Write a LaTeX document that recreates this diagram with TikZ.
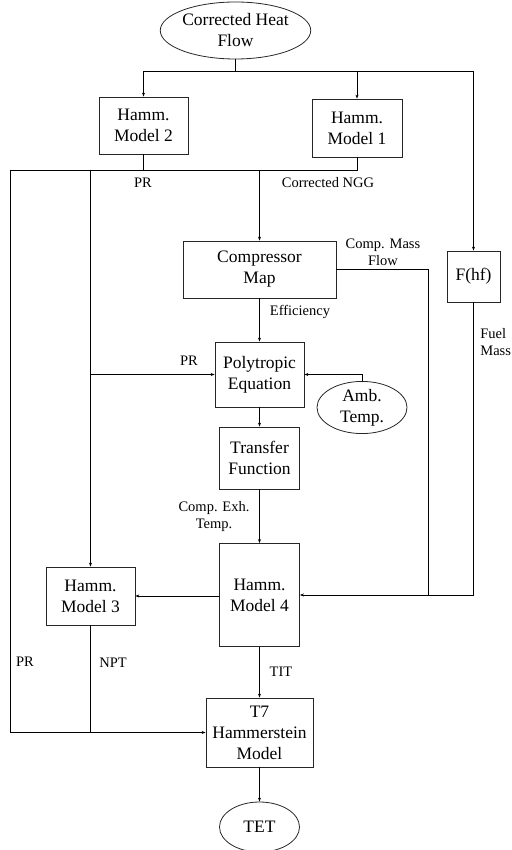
\documentclass[tikz,border=0pt]{standalone}
\usepackage{fontspec}
\setmainfont{Liberation Serif}
\usetikzlibrary{arrows.meta,shapes.geometric}
\begin{document}
\begin{tikzpicture}[x=1pt,y=-1pt,
  line width=0.8pt,
  box/.style={draw=black!85,rectangle,inner sep=0pt,align=center,font=\fontsize{17.5}{21}\selectfont},
  oval/.style={draw=black!85,ellipse,inner sep=0pt,align=center,font=\fontsize{17.5}{21}\selectfont},
  lab/.style={inner sep=0pt,align=center,font=\fontsize{14.5}{17}\selectfont},
  arr/.style={-{Stealth[length=4pt,width=3pt]}}]
\useasboundingbox (0,0) rectangle (511,850);
% nodes
\node[oval,minimum width=137,minimum height=57] (chf) at (235.5,30.5) {Corrected Heat\\Flow};
\node[box,minimum width=89,minimum height=57] (h2) at (143.5,125.5) {Hamm.\\Model 2};
\node[box,minimum width=90,minimum height=58] (h1) at (357,128) {Hamm.\\Model 1};
\node[box,minimum width=53,minimum height=51] (fhf) at (473.5,276.5) {F(hf)};
\node[box,minimum width=153,minimum height=57] (cm) at (259.5,269.5) {Compressor\\Map};
\node[box,minimum width=89,minimum height=65] (poly) at (259.5,374.5) {Polytropic\\Equation};
\node[oval,minimum width=90,minimum height=41] (amb) at (362,407.5) {Amb.\\Temp.};
\node[box,minimum width=80,minimum height=62] (tf) at (259.5,458) {Transfer\\Function};
\node[box,minimum width=80,minimum height=103] (h4) at (259.5,595) {Hamm.\\Model 4};
\node[box,minimum width=89,minimum height=58] (h3) at (90.5,596) {Hamm.\\Model 3};
\node[box,minimum width=107,minimum height=69] (t7) at (259.5,732.5) {T7\\Hammerstein\\Model};
\node[oval,minimum width=80,minimum height=50] (tet) at (259.5,827) {TET};
% labels
\node[lab] (lpr1) at (143,183) {PR};
\node[lab] (lngg) at (328,183) {Corrected NGG};
\node[lab] (lcmf) at (383,252.5) {Comp. Mass\\Flow};
\node[lab,anchor=west,align=left] (lfm) at (480,342.5) {Fuel\\Mass};
\node[lab] (leff) at (300,312) {Efficiency};
\node[lab] (lpr2) at (189,361) {PR};
\node[lab] (lcet) at (214,516.5) {Comp. Exh.\\Temp.};
\node[lab] (lpr3) at (25,662) {PR};
\node[lab] (lnpt) at (113,663) {NPT};
\node[lab] (ltit) at (281,672) {TIT};
% junctions
\coordinate (j0) at (235.5,71);
\coordinate (jl) at (10,170);
\coordinate (jb) at (90.5,170);
\coordinate (jr) at (357,170);
\coordinate (jc) at (259.5,170);
\coordinate (jm) at (428,595);
% connectors
\draw (chf.south) -- (j0);
\draw[arr] (j0) -| (h2.north);
\draw[arr] (j0) -| (h1.north);
\draw[arr] (j0) -| (fhf.north);
\draw (h2.south) -- (h2.south |- jl);
\draw (h1.south) -- (jr) -- (jl);
\draw[arr] (jl) |- (t7.west);
\draw[arr] (jb) -- (h3.north);
\draw[arr] (jc) -- (cm.north);
\draw[arr] (jb |- poly.west) -- (poly.west);
\draw[arr] (amb.north) |- (poly.east);
\draw (cm.east) -| (jm);
\draw[arr] (fhf.south) |- (h4.east);
\draw[arr] (cm.south) -- (poly.north);
\draw[arr] (poly.south) -- (tf.north);
\draw[arr] (tf.south) -- (h4.north);
\draw[arr] (h4.west |- h3.east) -- (h3.east);
\draw (h3.south) -- (h3.south |- t7.west);
\draw[arr] (h4.south) -- (t7.north);
\draw[arr] (t7.south) -- (tet.north);
\end{tikzpicture}
\end{document}
